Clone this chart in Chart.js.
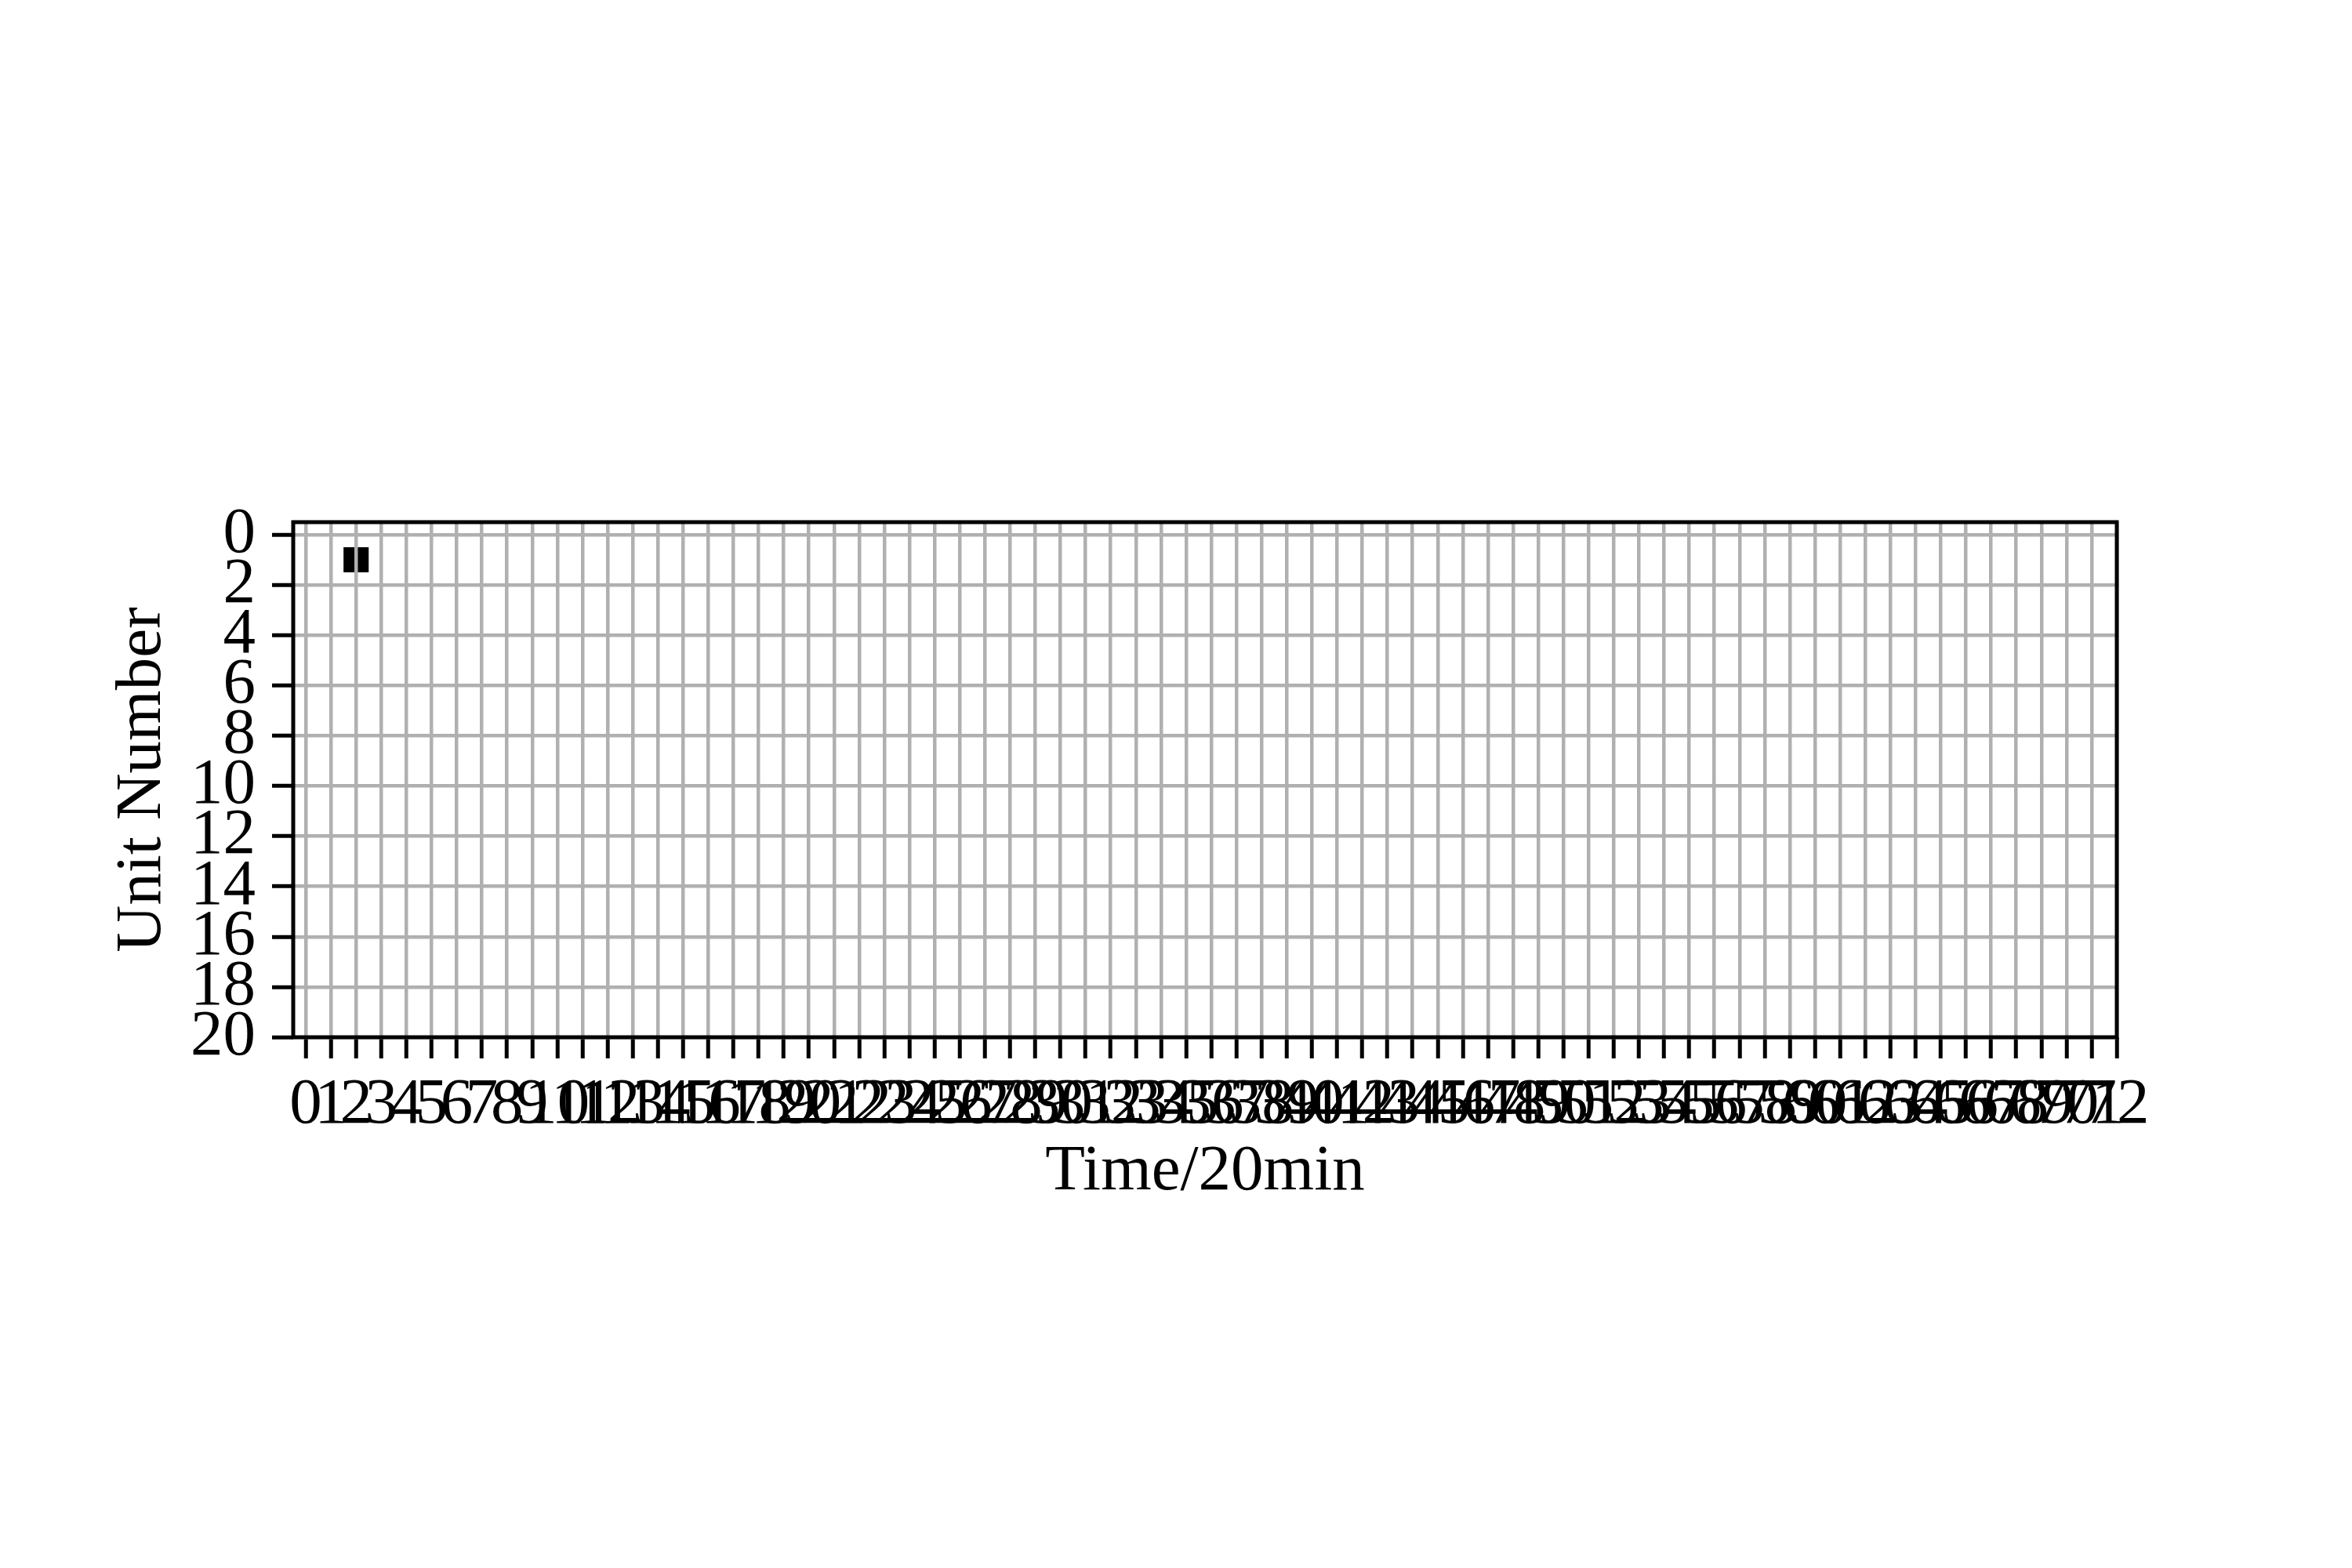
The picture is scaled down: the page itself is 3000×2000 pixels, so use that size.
<!DOCTYPE html>
<html>
<head>
<meta charset="utf-8">
<script src="https://cdn.jsdelivr.net/npm/chart.js@4.4.1/dist/chart.umd.min.js"></script>
<style>
  html, body { margin: 0; padding: 0; background: #fff; }
  #wrap { width: 3000px; height: 2000px; }
</style>
</head>
<body>
<div id="wrap"><canvas id="chart" width="3000" height="2000"></canvas></div>
<script>
// Time axis ticks (one per 20 min step)
const timeTicks = [
  0, 1, 2, 3, 4, 5, 6, 7, 8, 9, 10, 11, 12, 13, 14, 15, 16, 17, 18, 19,
  20, 21, 22, 23, 24, 25, 26, 27, 28, 29, 30, 31, 32, 33, 34, 35, 36, 37, 38, 39,
  40, 41, 42, 43, 44, 45, 46, 47, 48, 49, 50, 51, 52, 53, 54, 55, 56, 57, 58, 59,
  60, 61, 62, 63, 64, 65, 66, 67, 68, 69, 70, 71, 72,
];
const unitTicks = [0, 2, 4, 6, 8, 10, 12, 14, 16, 18, 20];

// axis extents (image cell edges)
const timeRange = [-0.5, 72];
const unitRange = [-0.5, 20];

// occupied cells: time step and unit number of each black cell
const cellTimes = [2];
const cellUnits = [1];

const FONT = "'Liberation Serif', 'Times New Roman', serif";

// each cell becomes a closed square around its centre, filled black
function cellOutline(t, u) {
  return [
    { x: t - 0.5, y: u - 0.5 },
    { x: t + 0.5, y: u - 0.5 },
    { x: t + 0.5, y: u + 0.5 },
    { x: t - 0.5, y: u + 0.5 },
    { x: t - 0.5, y: u - 0.5 },
  ];
}

const datasets = cellTimes.map((t, i) => ({
  data: cellOutline(t, cellUnits[i]),
  showLine: true,
  fill: "shape",
  backgroundColor: "#000000",
  borderColor: "#000000",
  borderWidth: 0,
  pointRadius: 0,
  tension: 0,
}));

// spines on all four sides
const frame = {
  id: "frame",
  afterDraw(chart) {
    const { ctx, chartArea: a } = chart;
    ctx.save();
    ctx.strokeStyle = "#000";
    ctx.lineWidth = 5;
    ctx.strokeRect(a.left, a.top, a.right - a.left, a.bottom - a.top);
    ctx.restore();
  },
};

new Chart(document.getElementById("chart"), {
  type: "scatter",
  data: { datasets },
  plugins: [frame],
  options: {
    responsive: false,
    animation: false,
    devicePixelRatio: 1,
    layout: { padding: { left: 132, top: 666, right: 300, bottom: 455 } },
    plugins: {
      legend: { display: false },
      tooltip: { enabled: false },
    },
    scales: {
      x: {
        type: "linear",
        min: timeRange[0],
        max: timeRange[1],
        afterBuildTicks: (s) => { s.ticks = timeTicks.map((v) => ({ value: v })); },
        afterFit: (s) => { s.height = 222; },
        ticks: {
          autoSkip: false,
          maxRotation: 0,
          minRotation: 0,
          padding: 10,
          color: "#000",
          font: { family: FONT, size: 83 },
          callback: (v) => String(v),
        },
        grid: {
          z: 1,
          color: "#b0b0b0",
          lineWidth: 4.5,
          tickLength: 27,
          tickColor: "#000",
          tickWidth: 5,
        },
        border: { display: false },
        title: {
          display: true,
          text: "Time/20min",
          color: "#000",
          font: { family: FONT, size: 83 },
          padding: 0,
        },
      },
      y: {
        type: "linear",
        reverse: true,
        min: unitRange[0],
        max: unitRange[1],
        afterBuildTicks: (s) => { s.ticks = unitTicks.map((v) => ({ value: v })); },
        afterFit: (s) => { s.width = 242; },
        ticks: {
          autoSkip: false,
          padding: 21,
          color: "#000",
          font: { family: FONT, size: 83 },
          callback: (v) => String(v),
        },
        grid: {
          z: 1,
          color: "#b0b0b0",
          lineWidth: 4.5,
          tickLength: 27,
          tickColor: "#000",
          tickWidth: 5,
        },
        border: { display: false },
        title: {
          display: true,
          text: "Unit Number",
          color: "#000",
          font: { family: FONT, size: 83 },
          padding: 0,
        },
      },
    },
  },
});
</script>
</body>
</html>
